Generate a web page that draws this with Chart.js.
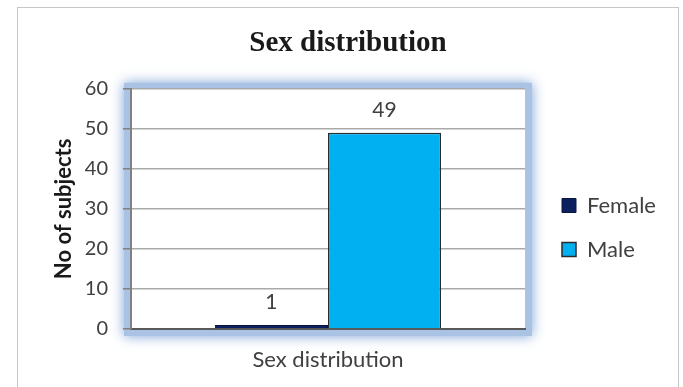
<!DOCTYPE html>
<html>
<head>
<meta charset="utf-8">
<script src="https://cdn.jsdelivr.net/npm/chart.js@4.4.1/dist/chart.umd.min.js"></script>
<style>
html, body { margin: 0; padding: 0; background: #fff; overflow: hidden; }
#wrap { position: relative; width: 683px; height: 387px; }
#frame {
  position: absolute; left: 17px; top: 7px; width: 660px; height: 400px;
  border: 1px solid #c6c6c6; pointer-events: none;
}
</style>
</head>
<body>
<div id="wrap">
<canvas id="sexChart" width="683" height="387"></canvas>
<div id="frame"></div>
</div>
<script>
/* ==========================================
DATA
========================================== */

const categories = ["Sex distribution"];

const femaleValues = [1];
const maleValues = [49];

const yMin = 0;
const yMax = 60;
const yStep = 10;

const textColor = "#404040";
const sansFont = "Lato, 'Liberation Sans', sans-serif";


/* ==========================================
PLUGINS
========================================== */

// blue glow round the plot area
const plotGlow = {
id: "plotGlow",
beforeDraw(chart){

const {ctx, chartArea: a} = chart;

ctx.save();
ctx.shadowColor = "rgba(110,150,210,0.9)";
ctx.shadowBlur = 12;
ctx.fillStyle = "#aac3e4";
ctx.fillRect(a.left - 7, a.top - 6, a.width + 14, a.height + 13);
ctx.restore();

ctx.fillStyle = "#ffffff";
ctx.fillRect(a.left, a.top, a.width, a.height);

}
};

// value labels above the bars
const barValues = {
id: "barValues",
afterDatasetsDraw(chart){

const ctx = chart.ctx;

ctx.save();
ctx.fillStyle = textColor;
ctx.font = "21px " + sansFont;
ctx.textAlign = "center";
ctx.textBaseline = "alphabetic";

chart.data.datasets.forEach((ds, i) => {
chart.getDatasetMeta(i).data.forEach((bar, j) => {
ctx.fillText(String(ds.data[j]), bar.x, bar.y - 16);
});
});

ctx.restore();

}
};

// fixed legend width, then move it a little right and down
const legendShift = {
id: "legendShift",
beforeLayout(chart){

const l = chart.legend;
if(!l || l._fixedFit) return;

const fit = l.fit;
l.fit = function(){
fit.call(this);
this.width = 158;
};
l._fixedFit = true;

},
afterLayout(chart){

const l = chart.legend;
l.left += 15;
l.right += 15;
l.top += 34;
l.bottom += 34;

}
};


/* ==========================================
CHART
========================================== */

new Chart(
document.getElementById("sexChart"),
{

type: "bar",

data: {

labels: categories,

datasets: [
{
label: "Female",
data: femaleValues,
backgroundColor: "#0c1f5e",
borderColor: "#0a1640",
borderWidth: 1
},
{
label: "Male",
data: maleValues,
backgroundColor: "#00b0f0",
borderColor: "#2b2b2b",
borderWidth: 1.5
}
]
},

options: {

responsive: false,
animation: false,

layout: {
padding: { left: 13, right: 0, top: 0, bottom: 0 }
},

datasets: {
bar: {
categoryPercentage: 0.574,
barPercentage: 1
}
},

plugins: {

title: {
display: true,
text: "Sex distribution",
color: "#1a1a1a",
font: {
family: "'Liberation Serif', 'Times New Roman', serif",
size: 29,
weight: "bold"
},
padding: { top: 26, bottom: 28 }
},

legend: {
position: "right",
labels: {
color: textColor,
font: { family: sansFont, size: 22 },
boxWidth: 14,
boxHeight: 14,
padding: 22
}
},

tooltip: { enabled: false }

},

scales: {

x: {
grid: { display: false, drawTicks: false },
border: { display: true, color: "#595959", width: 2 },
ticks: {
color: textColor,
font: { family: sansFont, size: 22 },
padding: 18
},
afterFit(scale){ scale.height = 58; }
},

y: {
min: yMin,
max: yMax,
ticks: {
stepSize: yStep,
color: textColor,
font: { family: sansFont, size: 20 },
padding: 15
},
grid: {
color: "#aaaaaa",
lineWidth: 1.5,
tickColor: "#808080",
tickLength: 8
},
border: { display: true, color: "#808080", width: 2 },
title: {
display: true,
text: "No of subjects",
color: "#1a1a1a",
font: { family: sansFont, size: 22, weight: "bold" },
padding: { top: 38, bottom: 0 }
},
afterFit(scale){ scale.width = 118; }
}

}

},

plugins: [plotGlow, barValues, legendShift]

}
);
</script>
</body>
</html>
